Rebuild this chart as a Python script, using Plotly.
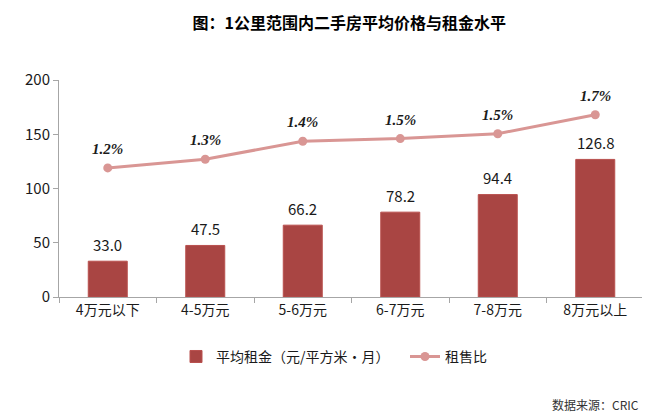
import plotly.graph_objects as go

# 数据
categories = ["4万元以下", "4-5万元", "5-6万元", "6-7万元", "7-8万元", "8万元以上"]
avg_rent = [33.0, 47.5, 66.2, 78.2, 94.4, 126.8]  # 平均租金（元/平方米·月）
rent_ratio = [1.19, 1.27, 1.435, 1.46, 1.505, 1.68]  # 租售比 (%)

bar_color = "#A94543"
line_color = "#D99694"
axis_color = "#A6A6A6"
cjk_font = "Noto Sans CJK SC"

fig = go.Figure()

fig.add_trace(
    go.Bar(
        x=categories,
        y=avg_rent,
        name="平均租金（元/平方米·月）",
        marker=dict(color=bar_color, line=dict(color="#B9504E", width=1)),
        width=0.4,
    )
)

fig.add_trace(
    go.Scatter(
        x=categories,
        y=rent_ratio,
        name="租售比",
        mode="lines+markers",
        line=dict(color=line_color, width=3),
        marker=dict(color=line_color, size=9),
        yaxis="y2",
    )
)

# 柱子数值标签
for c, v in zip(categories, avg_rent):
    fig.add_annotation(
        x=c, y=v, xref="x", yref="y",
        text=f"{v:.1f}", showarrow=False, yshift=17,
        font=dict(family=cjk_font, size=15, color="#1a1a1a"),
    )

# 租售比标签
for c, v in zip(categories, rent_ratio):
    fig.add_annotation(
        x=c, y=v, xref="x", yref="y2",
        text=f"<b><i>{v:.1f}%</i></b>", showarrow=False, yshift=19,
        font=dict(family="Liberation Serif", size=15, color="#1a1a1a"),
    )

fig.add_annotation(
    x=0.995, y=-0.495, xref="paper", yref="paper",
    xanchor="right", yanchor="middle",
    text="数据来源：CRIC", showarrow=False,
    font=dict(family=cjk_font, size=12, color="#333333"),
)

fig.update_layout(
    width=650,
    height=416,
    margin=dict(l=51, r=14, t=72, b=127),
    plot_bgcolor="white",
    paper_bgcolor="white",
    font=dict(family=cjk_font, size=14, color="#1a1a1a"),
    title=dict(
        text="<b>图：1公里范围内二手房平均价格与租金水平</b>",
        x=0.525, xanchor="center",
        y=0.964, yanchor="middle",
        font=dict(family=cjk_font, size=16, color="black"),
    ),
    bargap=0.6,
    showlegend=True,
    legend=dict(
        orientation="h",
        x=0.2, xanchor="left",
        y=-0.276, yanchor="middle",
        font=dict(family=cjk_font, size=14, color="#1a1a1a"),
        entrywidth=184,
        bgcolor="rgba(0,0,0,0)",
    ),
    xaxis=dict(
        showline=True, linecolor=axis_color, linewidth=1,
        ticks="outside", tickson="boundaries", ticklen=5, tickcolor=axis_color,
        showgrid=False,
        tickfont=dict(family=cjk_font, size=14, color="#1a1a1a"),
    ),
    yaxis=dict(
        range=[0, 200], dtick=50,
        showline=True, linecolor=axis_color, linewidth=1,
        ticks="outside", ticklen=5, tickcolor=axis_color,
        showgrid=False, zeroline=False,
        tickfont=dict(family=cjk_font, size=15, color="#1a1a1a"),
    ),
    yaxis2=dict(
        range=[0, 2], overlaying="y", side="right",
        showline=True, linecolor=axis_color, linewidth=1,
        showticklabels=False, ticks="", showgrid=False, zeroline=False,
    ),
)

fig.write_html("out.html")
